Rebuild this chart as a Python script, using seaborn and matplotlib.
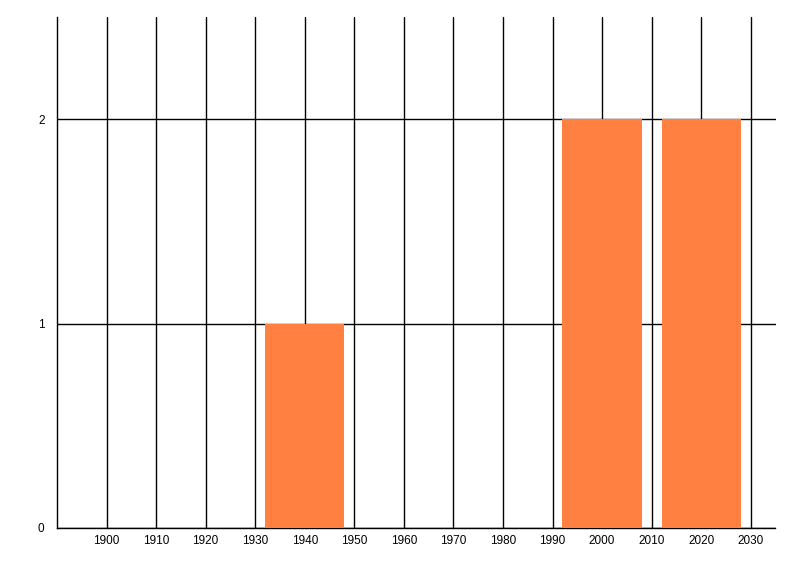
import matplotlib
matplotlib.use("Agg")
import matplotlib.pyplot as plt
import seaborn as sns

# decades with counts
years = [1940, 2000, 2020]
counts = [1, 2, 2]
x_ticks = list(range(1900, 2031, 10))
y_ticks = [0, 1, 2]

sns.set_style("white")
plt.rcParams['font.family'] = ['Liberation Sans', 'DejaVu Sans']

fig = plt.figure(figsize=(8, 5.76), dpi=100)
ax = fig.add_axes([57 / 800, 1 - 528 / 576, (775.5 - 57) / 800, (528 - 17) / 576])

sns.barplot(x=years, y=counts, native_scale=True, width=0.8,
            color='#FF8040', saturation=1, linewidth=0, edgecolor='none',
            ax=ax, zorder=3)

ax.set_xlim(1890, 2035)
ax.set_ylim(0, 2.5)
ax.set_xticks(x_ticks)
ax.set_yticks(y_ticks)
ax.tick_params(axis='x', length=0, labelsize=8.5, pad=5, labelcolor='black')
ax.tick_params(axis='y', length=7, width=1, color='black', labelsize=8.5, pad=2,
               labelcolor='black')
ax.grid(True, color='black', linewidth=1, zorder=0)
ax.set_axisbelow(True)

for side in ['top', 'right']:
    ax.spines[side].set_visible(False)
for side in ['left', 'bottom']:
    ax.spines[side].set_color('black')
    ax.spines[side].set_linewidth(1)

ax.set_xlabel('')
ax.set_ylabel('')

fig.savefig('out.png', dpi=100)
